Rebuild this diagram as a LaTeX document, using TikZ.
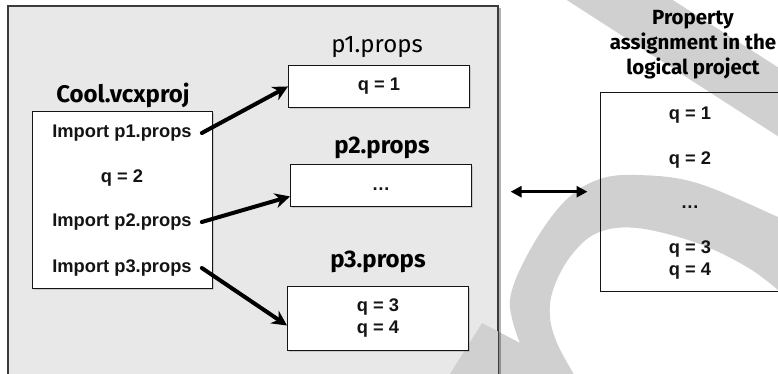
\documentclass[tikz,border=0pt]{standalone}
\usepackage{fontspec}
\setmainfont{Liberation Sans}
\newfontfamily\headfont{Fira Sans}
\usetikzlibrary{arrows.meta,shadows}

\definecolor{panelgray}{RGB}{232,232,232}
\definecolor{edgegray}{RGB}{60,60,60}
\definecolor{markgray}{RGB}{208,208,208}
\definecolor{ink}{RGB}{20,20,20}

\begin{document}
\begin{tikzpicture}[x=1pt,y=-1pt,
  panel/.style={draw=edgegray, line width=1.1pt, fill=panelgray, inner sep=0pt},
  panelrim/.style={draw=edgegray, line width=1.1pt},
  rimshade/.style={draw=black, opacity=0.3, line width=2pt},
  card/.style={draw=ink, line width=0.9pt, fill=white, inner sep=0pt,
    drop shadow={shadow xshift=1.2pt, shadow yshift=-1.2pt, opacity=0.3}},
  openbox/.style={draw=ink, line width=0.9pt, inner sep=0pt},
  item/.style={font=\fontsize{18.3}{22}\selectfont\bfseries, text=ink, inner sep=1pt, align=center},
  head/.style={font=\headfont\fontsize{24}{26}\selectfont\bfseries, text=black, inner sep=0pt},
  headlight/.style={font=\headfont\fontsize{24}{26}\selectfont, text=black, inner sep=0pt},
  subhead/.style={font=\headfont\fontsize{20.5}{25}\selectfont\bfseries, text=black, inner sep=0pt, align=center},
  feed/.style={line width=4pt, black, line cap=round, -{Stealth[length=15pt,width=15pt]}},
  link/.style={line width=3pt, black, {Triangle[length=11pt,width=11pt]}-{Triangle[length=11pt,width=11pt]}}
]
\useasboundingbox (0,0) rectangle (778,373);

% project panel
\node[panel, anchor=north west, minimum width=489.5pt, minimum height=390pt] (panel) at (7.5,6) {};

% background watermark: slanted bar and curved arrow
\fill[markgray] (559,-5) -- (665,-5) -- (790,75) -- (790,144) -- cycle;
\fill[markgray] (443,385) -- (482,323)
  -- plot[smooth, tension=0.6] coordinates {(520,343) (510,300) (530,250) (563,203) (597,180) (637,175) (697,183) (778,217) (790,223)}
  -- (790,296)
  -- plot[smooth, tension=0.6] coordinates {(778,290) (747,267) (697,243) (637,228) (597,233) (570,257) (553,290) (550,317) (557,343) (573,373) (580,385)}
  -- cycle;
\draw[rimshade] ([xshift=2pt,yshift=-2pt]panel.north east) -- ([xshift=2pt]panel.south east);
\draw[panelrim] (panel.north west) rectangle (panel.south east);

% Cool.vcxproj
\node[head] (cooltitle) at (123,95) {Cool.vcxproj};
\node[card, anchor=north west, minimum width=180pt, minimum height=177pt] (coolbox) at (32,111) {};
\node[item] (imp1) at (122,133) {Import p1.props};
\node[item] (q2) at (122,178) {q = 2};
\node[item] (imp2) at (122,222) {Import p2.props};
\node[item] (imp3) at (122,268) {Import p3.props};

% property sheets
\node[headlight] (p1title) at (377,47) {p1.props};
\node[card, anchor=north west, minimum width=181pt, minimum height=42pt] (p1box) at (288,65) {};
\node[item] at (p1box.center) {q = 1};

\node[head] (p2title) at (382,148) {p2.props};
\node[card, anchor=north west, minimum width=181pt, minimum height=42pt] (p2box) at (290,164) {};
\node[item] at ([yshift=-4pt]p2box.center) {\dots};

\node[head] (p3title) at (378,262) {p3.props};
\node[card, anchor=north west, minimum width=181pt, minimum height=64pt] (p3box) at (287,286) {};
\node[item] at (p3box.center) {q = 3\\q = 4};

% imports
\draw[feed] ([xshift=9pt]imp1.east) -- (p1box.west);
\draw[feed] ([xshift=9pt]imp2.east) -- ([yshift=-11pt]p2box.west);
\draw[feed] ([xshift=9pt]imp3.east) -- ([yshift=-7pt]p3box.west);

% logical project
\node[subhead] (logtitle) at (693,45) {Property\\assignment in the\\logical project};
\node[openbox, anchor=north west, minimum width=220pt, minimum height=199.5pt] (logbox) at (599.5,91.5) {};
\node[item] (l1) at (690,115) {q = 1};
\node[item] (l2) at (690,160) {q = 2};
\node[item] (l3) at (690,207) {\dots};
\node[item] (l4) at (690,260.5) {q = 3\\q = 4};

\draw[link, shorten <=12.5pt, shorten >=12pt] (panel.east |- logbox.west) -- (logbox.west);
\end{tikzpicture}
\end{document}
